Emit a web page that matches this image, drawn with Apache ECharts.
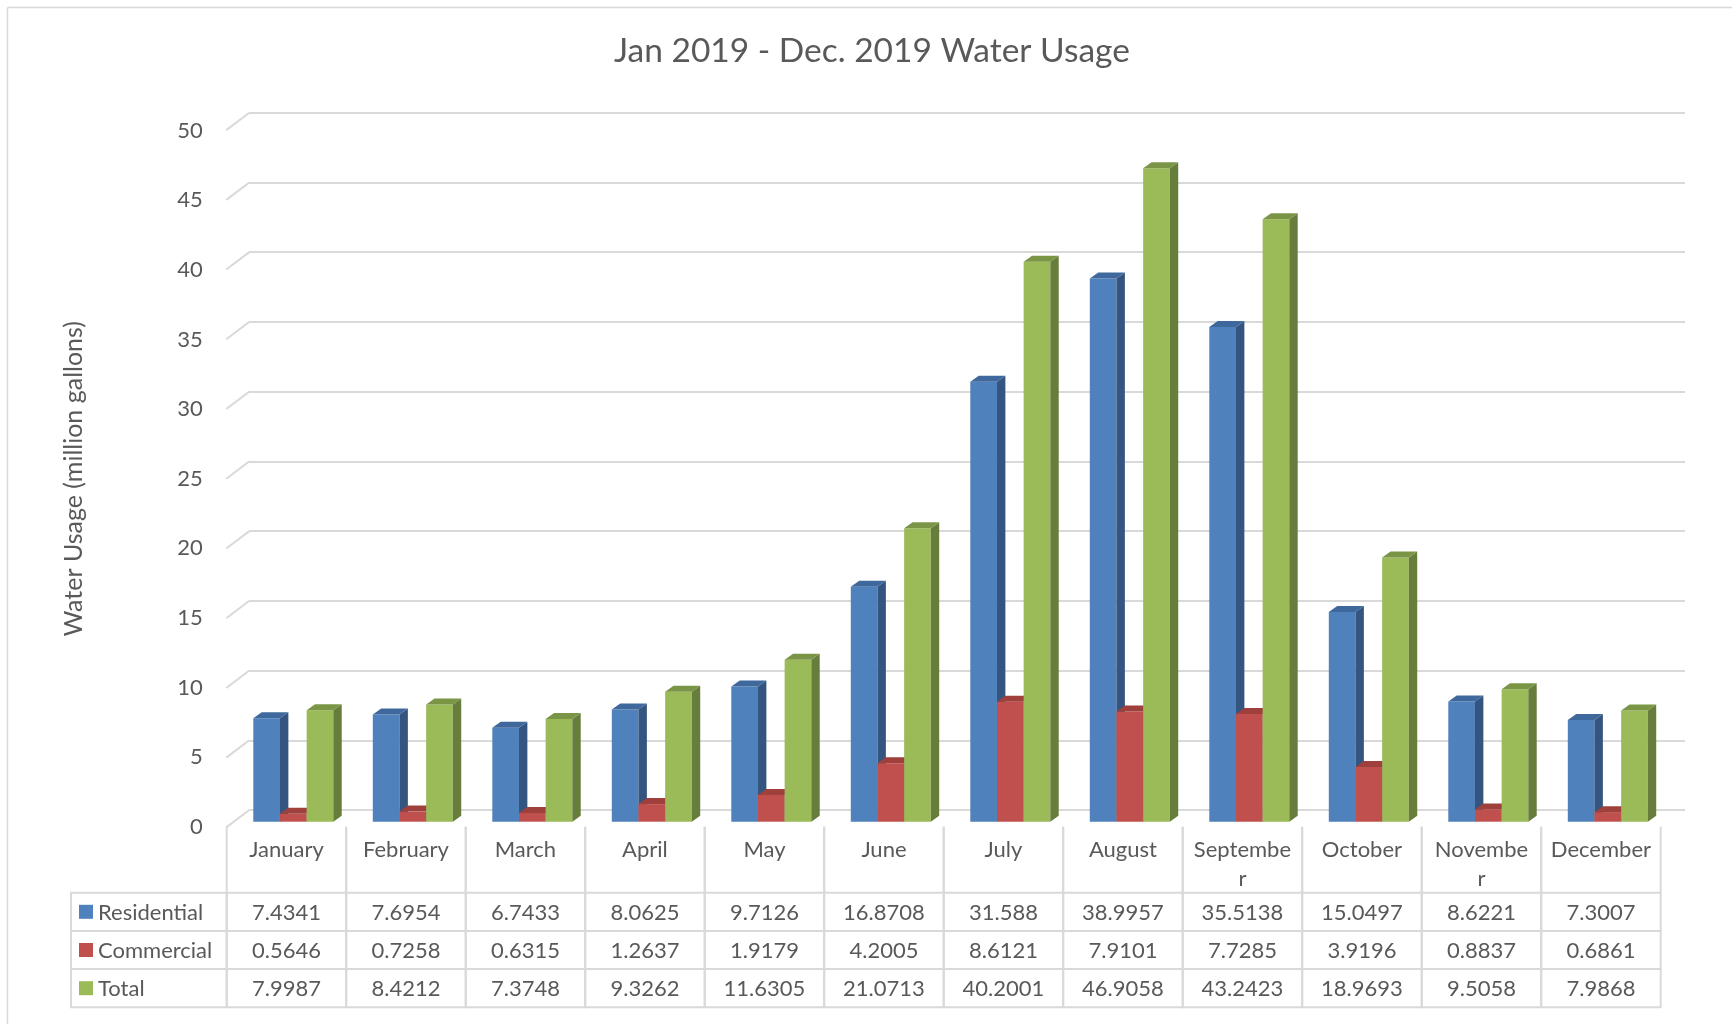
<!DOCTYPE html>
<html>
<head>
<meta charset="utf-8">
<title>Water Usage 2019</title>
<script src="https://cdn.jsdelivr.net/npm/echarts@6/dist/echarts.min.js"></script>
<style>
  html, body { margin: 0; padding: 0; background: #fff; }
  #chart { width: 1732px; height: 1024px; }
</style>
</head>
<body>
<div id="chart"></div>
<script>
var months = ['January', 'February', 'March', 'April', 'May', 'June', 'July',
  'August', 'September', 'October', 'November', 'December'];
// header labels as they wrap in the table
var monthLabels = ['January', 'February', 'March', 'April', 'May', 'June', 'July',
  'August', 'Septembe\nr', 'October', 'Novembe\nr', 'December'];
var residential = [7.4341, 7.6954, 6.7433, 8.0625, 9.7126, 16.8708, 31.588, 38.9957, 35.5138, 15.0497, 8.6221, 7.3007];
var commercial = [0.5646, 0.7258, 0.6315, 1.2637, 1.9179, 4.2005, 8.6121, 7.9101, 7.7285, 3.9196, 0.8837, 0.6861];
var total = [7.9987, 8.4212, 7.3748, 9.3262, 11.6305, 21.0713, 40.2001, 46.9058, 43.2423, 18.9693, 9.5058, 7.9868];
var seriesNames = ['Residential', 'Commercial', 'Total'];
var yTicks = [0, 5, 10, 15, 20, 25, 30, 35, 40, 45, 50];

// colours: front / side / top of each 3d column
var shades = [
  { front: '#4f81bd', side: '#34557f', top: '#3f689c' },
  { front: '#c0504d', side: '#8b3a38', top: '#a0403d' },
  { front: '#9bbb59', side: '#677d3b', top: '#7b9546' }
];
var LINE = '#d9d9d9';
var TEXT = '#595959';
var FONT = 'Lato, "Open Sans", sans-serif';
var DX = 8.4, DY = 6;          // column depth
var SLANT_X = 23, SLANT_Y = 17.4;
var HEADER_H = 66, ROW_H = 38.2;

var chart = echarts.init(document.getElementById('chart'));

function barRenderer(k) {
  return function (params, api) {
    var i = api.value(0);
    var bw = api.size([1, 0])[0];
    var base = api.coord([i, 0]);
    var topY = api.coord([i, api.value(1)])[1];
    var xL = base[0] - bw / 2 + bw * (0.2226 + k * 0.2232);
    var xR = xL + bw * 0.2232;
    var y0 = base[1];
    var c = shades[k];
    return {
      type: 'group',
      children: [
        { type: 'rect', shape: { x: xL, y: topY, width: xR - xL, height: y0 - topY }, style: { fill: c.front } },
        { type: 'polygon', shape: { points: [[xR, topY], [xR, y0], [xR + DX, y0 - DY], [xR + DX, topY - DY]] }, style: { fill: c.side } },
        { type: 'polygon', shape: { points: [[xL, topY], [xR, topY], [xR + DX, topY - DY], [xL + DX, topY - DY]] }, style: { fill: c.top } }
      ]
    };
  };
}

function barData(arr) {
  return arr.map(function (v, i) { return [i, v]; });
}

// wall slant lines from the front axis to the back wall
function renderSlant(params, api) {
  var cs = params.coordSys;
  var p = api.coord([0, api.value(0)]);
  return {
    type: 'line',
    shape: { x1: cs.x - SLANT_X, y1: p[1] + SLANT_Y, x2: cs.x, y2: p[1] },
    style: { stroke: LINE, lineWidth: 2 }
  };
}

function renderHeader(params, api) {
  var cs = params.coordSys;
  var i = api.value(0);
  var bw = api.size([1, 0])[0];
  var cx = api.coord([i, 0])[0];
  var x0 = cx - bw / 2, x1 = cx + bw / 2;
  return {
    type: 'group',
    children: [
      { type: 'line', shape: { x1: x0, y1: cs.y, x2: x0, y2: cs.y + HEADER_H }, style: { stroke: LINE, lineWidth: 2 } },
      { type: 'line', shape: { x1: x1, y1: cs.y, x2: x1, y2: cs.y + HEADER_H }, style: { stroke: LINE, lineWidth: 2 } },
      { type: 'text', style: { text: monthLabels[i], x: cx, y: cs.y + 9, align: 'center', verticalAlign: 'top',
        lineHeight: 28.5, font: '22px ' + FONT, fill: TEXT } }
    ]
  };
}

function renderCell(params, api) {
  var cs = params.coordSys;
  var i = api.value(0), r = api.value(1);
  var bw = api.size([1, 0])[0];
  var cx = api.coord([i, 0])[0];
  var top = cs.y + HEADER_H + r * ROW_H;
  return {
    type: 'group',
    children: [
      { type: 'rect', shape: { x: cx - bw / 2, y: top, width: bw, height: ROW_H }, style: { fill: 'none', stroke: LINE, lineWidth: 2 } },
      { type: 'text', style: { text: String(api.value(2)), x: cx, y: top + ROW_H / 2 + 1, align: 'center', verticalAlign: 'middle',
        font: '22px ' + FONT, fill: TEXT } }
    ]
  };
}

function renderLegendCell(params, api) {
  var cs = params.coordSys;
  var r = api.value(0);
  var left = 71;
  var top = cs.y + HEADER_H + r * ROW_H;
  return {
    type: 'group',
    children: [
      { type: 'rect', shape: { x: left, y: top, width: cs.x - left, height: ROW_H }, style: { fill: 'none', stroke: LINE, lineWidth: 2 } },
      { type: 'rect', shape: { x: 79, y: top + ROW_H / 2 - 7, width: 14, height: 14 }, style: { fill: shades[r].front } },
      { type: 'text', style: { text: seriesNames[r], x: 98, y: top + ROW_H / 2 + 1, align: 'left', verticalAlign: 'middle',
        font: '22px ' + FONT, fill: TEXT } }
    ]
  };
}

var rows = [residential, commercial, total];
var cellData = [];
rows.forEach(function (arr, r) {
  arr.forEach(function (v, i) { cellData.push([i, r, v]); });
});

var option = {
  backgroundColor: '#fff',
  animation: false,
  title: {
    text: 'Jan 2019 - Dec. 2019 Water Usage',
    left: 867,
    top: 29,
    textAlign: 'center',
    textStyle: { fontFamily: FONT, fontSize: 33.5, fontWeight: 'normal', color: TEXT }
  },
  graphic: [
    { type: 'line', shape: { x1: 7.5, y1: 7.5, x2: 1732, y2: 7.5 }, style: { stroke: LINE, lineWidth: 1.5 } },
    { type: 'line', shape: { x1: 7.5, y1: 7.5, x2: 7.5, y2: 1024 }, style: { stroke: LINE, lineWidth: 1.5 } }
  ],
  grid: [
    { left: 249.3, top: 112.7, width: 1435.7, height: 697.3 },   // back wall
    { left: 226.7, top: 130.7, width: 1434, height: 696 },       // front plane (labels)
    { left: 226.7, top: 125.2, width: 1434, height: 696.5 },     // columns
    { left: 226.7, top: 826.7, width: 1434, height: 180.6 }      // data table
  ],
  xAxis: [
    { gridIndex: 0, type: 'value', min: 0, max: 1, show: false },
    { gridIndex: 1, type: 'category', data: months, show: false },
    { gridIndex: 2, type: 'category', data: months, show: false },
    { gridIndex: 3, type: 'category', data: months, show: false }
  ],
  yAxis: [
    { gridIndex: 0, type: 'value', min: 0, max: 50, interval: 5,
      axisLine: { show: false }, axisTick: { show: false }, axisLabel: { show: false },
      splitLine: { show: true, lineStyle: { color: LINE, width: 2 } } },
    { gridIndex: 1, type: 'value', min: 0, max: 50, interval: 5,
      axisLine: { show: false }, axisTick: { show: false }, splitLine: { show: false },
      axisLabel: { margin: 24, fontFamily: FONT, fontSize: 22, color: TEXT },
      name: 'Water Usage (million gallons)', nameLocation: 'middle', nameGap: 140,
      nameTextStyle: { fontFamily: FONT, fontSize: 25, color: TEXT } },
    { gridIndex: 2, type: 'value', min: 0, max: 50, show: false },
    { gridIndex: 3, type: 'value', min: 0, max: 1, show: false }
  ],
  series: [
    { type: 'custom', xAxisIndex: 0, yAxisIndex: 0, clip: false, silent: true,
      data: yTicks.map(function (t) { return [t]; }), encode: { y: 0 }, renderItem: renderSlant },
    { type: 'custom', name: seriesNames[0], xAxisIndex: 2, yAxisIndex: 2, clip: false,
      data: barData(residential), renderItem: barRenderer(0) },
    { type: 'custom', name: seriesNames[1], xAxisIndex: 2, yAxisIndex: 2, clip: false,
      data: barData(commercial), renderItem: barRenderer(1) },
    { type: 'custom', name: seriesNames[2], xAxisIndex: 2, yAxisIndex: 2, clip: false,
      data: barData(total), renderItem: barRenderer(2) },
    { type: 'custom', xAxisIndex: 3, yAxisIndex: 3, clip: false, silent: true,
      data: months.map(function (m, i) { return [i, 0]; }), renderItem: renderHeader },
    { type: 'custom', xAxisIndex: 3, yAxisIndex: 3, clip: false, silent: true,
      data: cellData, encode: { x: 0 }, renderItem: renderCell },
    { type: 'custom', xAxisIndex: 3, yAxisIndex: 3, clip: false, silent: true,
      data: seriesNames.map(function (n, r) { return [r, 0]; }), renderItem: renderLegendCell }
  ]
};

chart.setOption(option);
</script>
</body>
</html>
